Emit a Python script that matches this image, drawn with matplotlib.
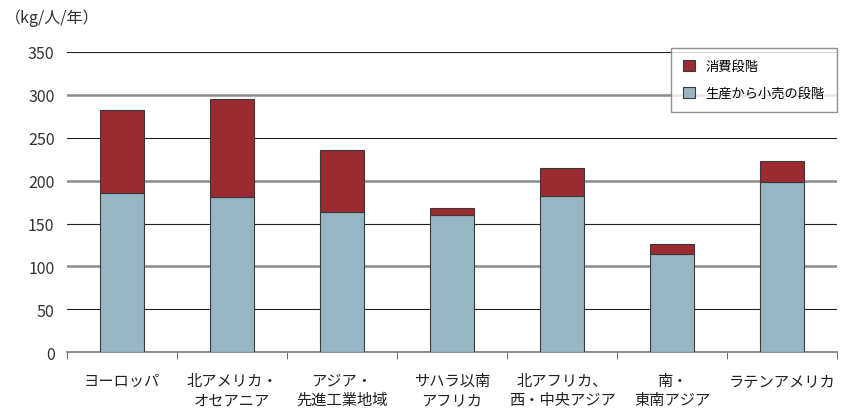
import matplotlib
matplotlib.use('Agg')
import matplotlib.pyplot as plt
import numpy as np

plt.rcParams['font.family'] = ['Noto Sans CJK JP', 'DejaVu Sans']

# Per-capita food loss by region (kg/person/year)
regions = ['ヨーロッパ', '北アメリカ・\nオセアニア', 'アジア・\n先進工業地域', 'サハラ以南\nアフリカ',
           '北アフリカ、\n西・中央アジア', '南・\n東南アジア', 'ラテンアメリカ']
production_to_retail = [185, 181, 163, 160, 182, 114, 198]
consumption = [97, 114, 73, 8, 33, 12, 25]
yticks = [0, 50, 100, 150, 200, 250, 300, 350]

red = '#9b2a33'
blue = '#97b6c3'

fig = plt.figure(figsize=(8.56, 4.14), dpi=100)
ax = fig.add_axes([0.0783, 0.147, 0.8995, 0.725])

x = np.arange(len(regions))
b1 = ax.bar(x, production_to_retail, width=0.4, color=blue, edgecolor='#3a3a3a', linewidth=0.8,
            label='生産から小売の段階', zorder=3)
b2 = ax.bar(x, consumption, bottom=production_to_retail, width=0.4, color=red, edgecolor='#3a3a3a',
            linewidth=0.8, label='消費段階', zorder=3)

# alternating gridlines like the original
for v in yticks[1:]:
    if v % 100 == 0:
        ax.axhline(v, color='#8c8c8c', linewidth=1.8, zorder=1)
    else:
        ax.axhline(v, color='#222222', linewidth=0.8, zorder=1)

ax.set_ylim(0, 350)
ax.set_xlim(-0.5, len(regions) - 0.5)
ax.set_yticks(yticks)
ax.tick_params(axis='y', length=0, pad=9, labelsize=11.5, colors='#333333')
ax.set_xticks(x)
ax.set_xticklabels(regions, fontsize=11, color='#222222', linespacing=1.2)
ax.tick_params(axis='x', length=0, pad=14)
ax.set_xticks(np.arange(len(regions) + 1) - 0.5, minor=True)
ax.tick_params(axis='x', which='minor', length=5, color='#555555')

for s in ['top', 'right', 'left']:
    ax.spines[s].set_visible(False)
ax.spines['bottom'].set_color('#777777')
ax.spines['bottom'].set_linewidth(1.2)

fig.text(0.006, 0.955, '（kg/人/年）', fontsize=11.5, color='#333333', va='center')

leg = ax.legend(handles=[b2, b1], loc='upper right', bbox_to_anchor=(1.008, 1.036), fontsize=9.5,
                frameon=True, fancybox=False, edgecolor='#777777', handlelength=0.9, handleheight=0.9,
                labelspacing=1.1, borderpad=0.9, handletextpad=0.8)
leg.get_frame().set_linewidth(1.0)
leg.set_zorder(5)

fig.savefig('out.png', dpi=100)
